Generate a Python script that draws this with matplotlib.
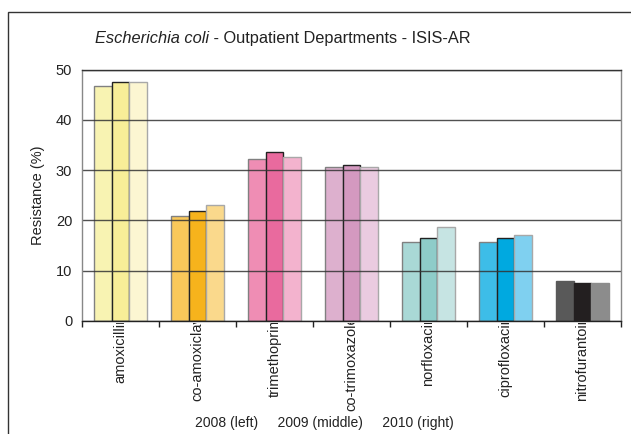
import matplotlib
matplotlib.use("Agg")
import matplotlib.pyplot as plt
import numpy as np
from matplotlib.transforms import Bbox, TransformedBbox, IdentityTransform
from matplotlib.patches import Rectangle

categories = ["amoxicillin", "co-amoxiclav", "trimethoprim", "co-trimoxazole",
              "norfloxacin", "ciprofloxacin", "nitrofurantoin"]
vals_2008 = [46.8, 20.9, 32.3, 30.6, 15.8, 15.8, 7.9]
vals_2009 = [47.6, 21.8, 33.5, 31.1, 16.5, 16.5, 7.6]
vals_2010 = [47.6, 23.0, 32.7, 30.6, 18.6, 17.1, 7.5]
colors_2008 = ["#F8F3B2", "#F9C85A", "#EF8DB4", "#DDB0CE", "#A9D8D6", "#3DBDE8", "#595959"]
colors_2009 = ["#F8EE98", "#F6B31C", "#E96A9E", "#D499C0", "#8ECCC9", "#00A9E0", "#231F20"]
colors_2010 = ["#FCF6D2", "#FAD98C", "#F3B3CE", "#EACBE0", "#C6E4E3", "#7FD0F0", "#8C8C8C"]
title_italic = "Escherichia coli"
title_rest = " - Outpatient Departments - ISIS-AR"
ylabel = "Resistance (%)"
legend_text = "2008 (left)     2009 (middle)     2010 (right)"

plt.rcParams['font.family'] = ['Liberation Sans', 'DejaVu Sans']

W, H = 631, 434
fig = plt.figure(figsize=(W / 100, H / 100), dpi=100)
fig.patch.set_facecolor("white")

# outer frame
fig.patches.append(Rectangle((8 / W, -0.05), 1.0, (H - 12) / H + 0.05,
                             transform=fig.transFigure, fill=False,
                             edgecolor="#333333", linewidth=1.0))

ax_l, ax_r, ax_t, ax_b = 82, 621, 69.5, 321
ax = fig.add_axes([ax_l / W, (H - ax_b) / H, (ax_r - ax_l) / W, (ax_b - ax_t) / H])

n = len(categories)
x = np.arange(n)
bw = 0.228
edge_2008 = ["#808080"] * 6 + ["#595959"]
edge_2009 = ["#222222"] * 6 + ["#231F20"]
edge_2010 = ["#a8a8a8"] * 6 + ["#8C8C8C"]
ax.bar(x - bw, vals_2008, bw, color=colors_2008, edgecolor=edge_2008, linewidth=1.0, zorder=2)
ax.bar(x, vals_2009, bw, color=colors_2009, edgecolor=edge_2009, linewidth=1.0, zorder=2)
ax.bar(x + bw, vals_2010, bw, color=colors_2010, edgecolor=edge_2010, linewidth=1.0, zorder=2)

ax.set_xlim(-0.5, n - 0.5)
ax.set_ylim(0, 50)
ax.set_yticks([0, 10, 20, 30, 40, 50])
ax.yaxis.grid(True, color="#333333", linewidth=1.0, alpha=0.85, zorder=3)
ax.set_axisbelow(False)
ax.tick_params(axis="y", length=0, pad=7, labelsize=10.5, colors="#222222")
ax.set_xticks(np.arange(n + 1) - 0.5)
ax.set_xticklabels([])
ax.tick_params(axis="x", direction="out", length=4, width=1, colors="#222222")

ax.spines["left"].set_color("#888888")
ax.spines["right"].set_color("#888888")
ax.spines["top"].set_color("#333333")
ax.spines["bottom"].set_color("#222222")
for s in ax.spines.values():
    s.set_linewidth(1.0)
    s.set_zorder(4)

ax.set_ylabel(ylabel, fontsize=10.5, labelpad=8, color="#222222")

# category labels, clipped at the axis line
clip = TransformedBbox(Bbox([[0, 0], [W, H - ax_b - 1.5]]), IdentityTransform())
for i, c in enumerate(categories):
    t = ax.text(i, 1.2, c, rotation=90, rotation_mode="anchor", ha="right", va="center",
                fontsize=10.5, color="#222222", transform=ax.transData)
    t.set_clip_on(True)
    t.set_clip_box(clip)

# title
ty = (H - 38.5) / H
t1 = fig.text(95 / W, ty, title_italic, fontsize=11.8, style="italic",
              ha="left", va="center", color="#222222")
fig.canvas.draw()
bb = t1.get_window_extent()
fig.text(bb.x1 / W, ty, title_rest, fontsize=11.8, ha="left", va="center", color="#222222")

fig.text(324 / W, (H - 423) / H, legend_text, fontsize=10, ha="center", va="center", color="#222222")

fig.savefig("out.png", dpi=100)
